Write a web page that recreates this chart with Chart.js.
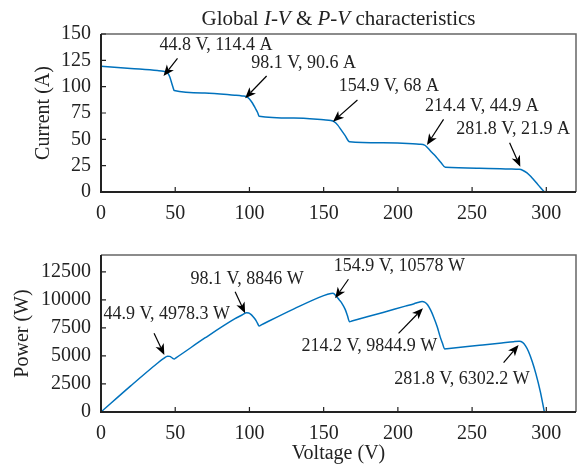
<!DOCTYPE html>
<html>
<head>
<meta charset="utf-8">
<script src="https://cdn.jsdelivr.net/npm/chart.js@4.4.1/dist/chart.umd.min.js"></script>
<style>
  body { margin: 0; background: #fff; }
  canvas { display: block; }
</style>
</head>
<body>
<canvas id="ivChart" width="586" height="222"></canvas>
<canvas id="pvChart" width="586" height="249"></canvas>
<script>
// I-V curve
const ivVoltage = [0, 20, 38, 42, 44.8, 46.3, 47.6, 48.6, 49.3,
  70, 90, 95, 98.1, 100, 102, 104, 105.5, 106.5,
  130, 150, 154.9, 157, 159.5, 162, 164.5, 167.4,
  190, 210, 214.4, 218, 220, 223, 226, 229, 232,
  255, 275, 281.8, 284, 287, 290, 293, 296, 298.7];
const ivCurrent = [119.5, 117.3, 115.3, 114.6, 113.2, 109.5, 103.5, 99, 96.3,
  94.0, 91.9, 91.2, 90.4, 88.3, 84.5, 79.5, 75.5, 72.0,
  70.2, 68.5, 67.9, 66.8, 63.5, 58.5, 53.5, 47.8,
  46.8, 45.9, 45.4, 44.5, 42, 37.5, 33, 28, 23.4,
  22.6, 21.9, 21.5, 20.7, 18.2, 14, 9.3, 4.2, 0];

// P-V curve
const pvVoltage = [0, 20, 38, 42, 44.9, 46.3, 47.6, 48.6, 49.3, 50.5,
  70, 90, 95, 98.1, 99.5, 101, 102.5, 104, 105.3, 106.5, 108,
  130, 150, 154.9, 156.3, 158.5, 160.5, 162.3, 164.5, 166, 167.4, 169,
  190, 205, 211, 214.2, 216.3, 218, 220, 222, 224, 226.5, 228.5, 230, 231.5, 233,
  255, 270, 278, 281.8, 284, 286, 288, 290.5, 293, 296, 298.7];
const pvPower = [0, 2330, 4350, 4760, 4978, 4960, 4860, 4760, 4730, 4830,
  6600, 8300, 8650, 8846, 8830, 8700, 8500, 8250, 7950, 7670, 7770,
  9200, 10380, 10570, 10583, 10330, 10000, 9690, 9150, 8600, 8050, 8110,
  8880, 9440, 9660, 9790, 9845, 9790, 9560, 9100, 8500, 7600, 6700, 6150, 5620, 5640,
  5950, 6160, 6270, 6302, 6200, 5900, 5400, 4500, 3400, 1800, 0];

// marked points
const ivMarkV = [44.8, 98.1, 154.9, 214.4, 281.8];
const ivMarkI = [114.4, 90.6, 68, 44.9, 21.9];
const ivMarkText = ['44.8 V, 114.4 A', '98.1 V, 90.6 A', '154.9 V, 68 A', '214.4 V, 44.9 A', '281.8 V, 21.9 A'];
const pvMarkV = [44.9, 98.1, 154.9, 214.2, 281.8];
const pvMarkP = [4978.3, 8846, 10578, 9844.9, 6302.2];
const pvMarkText = ['44.9 V, 4978.3 W', '98.1 V, 8846 W', '154.9 V, 10578 W', '214.2 V, 9844.9 W', '281.8 V, 6302.2 W'];

const xTicks = [0, 50, 100, 150, 200, 250, 300];
const ivTicks = [0, 25, 50, 75, 100, 125, 150];
const pvTicks = [0, 2500, 5000, 7500, 10000, 12500];

// pixel offsets of arrow tip, arrow tail and label centre from each marked point
const ivTip = [[-4, 4.5], [-1.5, 1.7], [2, 1.3], [7.7, 0.3], [1, -2.2]];
const ivTail = [[10, -13], [20, -20.6], [26.5, -20.4], [24.3, -25.4], [-9.7, -26.2]];
const ivLabel = [[48.5, -26.5], [57, -33.6], [58, -33.7], [62.7, -38.7], [-6.2, -39.6]];
const pvTip = [[-3.3, -1.2], [-1.5, 0.5], [4.2, 4.9], [4, 6.7], [-0.7, 3.7]];
const pvTail = [[-13.6, -22.9], [-11.5, -21.1], [17.5, -14.1], [-20.4, 31.7], [-15.7, 21.4]];
const pvLabel = [[-0.9, -41.9], [0.5, -33.5], [68.4, -26.7], [-49.5, 45.1], [-57.3, 38]];

const SERIF = '"Liberation Serif", "Times New Roman", serif';
const LINE = '#0072BD';
const INK = '#222';

function arrow(ctx, x0, y0, x1, y1) {
  const a = Math.atan2(y1 - y0, x1 - x0);
  const len = 11, half = 4.5, back = 8;
  ctx.save();
  ctx.strokeStyle = '#000';
  ctx.fillStyle = '#000';
  ctx.lineWidth = 1.2;
  ctx.beginPath();
  ctx.moveTo(x0, y0);
  ctx.lineTo(x1 - Math.cos(a) * back, y1 - Math.sin(a) * back);
  ctx.stroke();
  ctx.translate(x1, y1);
  ctx.rotate(a);
  ctx.beginPath();
  ctx.moveTo(0, 0);
  ctx.lineTo(-len, -half);
  ctx.lineTo(-back, 0);
  ctx.lineTo(-len, half);
  ctx.closePath();
  ctx.fill();
  ctx.restore();
}

const decor = {
  id: 'decor',
  afterDraw(chart, args, opts) {
    const { ctx, chartArea: ca, scales: { x, y } } = chart;
    ctx.save();
    // box
    ctx.strokeStyle = '#666';
    ctx.lineWidth = 1.5;
    ctx.beginPath();
    ctx.moveTo(ca.left, ca.top);
    ctx.lineTo(ca.right, ca.top);
    ctx.lineTo(ca.right, ca.bottom);
    ctx.stroke();
    ctx.strokeStyle = INK;
    ctx.lineWidth = 2;
    ctx.beginPath();
    ctx.moveTo(ca.left, ca.top);
    ctx.lineTo(ca.left, ca.bottom);
    ctx.lineTo(ca.right, ca.bottom);
    ctx.stroke();
    // inward ticks
    ctx.lineWidth = 1.2;
    ctx.beginPath();
    xTicks.forEach(v => {
      const px = x.getPixelForValue(v);
      ctx.moveTo(px, ca.bottom);
      ctx.lineTo(px, ca.bottom - 5);
    });
    opts.yTicks.forEach(v => {
      const py = y.getPixelForValue(v);
      ctx.moveTo(ca.left, py);
      ctx.lineTo(ca.left + 5, py);
    });
    ctx.stroke();

    // y axis title
    ctx.fillStyle = INK;
    ctx.font = '20px ' + SERIF;
    ctx.textAlign = 'center';
    ctx.textBaseline = 'alphabetic';
    ctx.save();
    ctx.translate(opts.yTitleX, (ca.top + ca.bottom) / 2);
    ctx.rotate(-Math.PI / 2);
    ctx.fillText(opts.yTitle, 0, 0);
    ctx.restore();
    if (opts.xTitle) ctx.fillText(opts.xTitle, (ca.left + ca.right) / 2, opts.xTitleY);

    // chart title with italic parts
    if (opts.title) {
      const parts = opts.title;
      let total = 0;
      parts.forEach(p => {
        ctx.font = (p[1] ? 'italic ' : '') + '21px ' + SERIF;
        total += ctx.measureText(p[0]).width;
      });
      let tx = (ca.left + ca.right) / 2 - total / 2;
      ctx.textAlign = 'left';
      parts.forEach(p => {
        ctx.font = (p[1] ? 'italic ' : '') + '21px ' + SERIF;
        ctx.fillText(p[0], tx, 25);
        tx += ctx.measureText(p[0]).width;
      });
    }

    // marked points
    ctx.font = '18px ' + SERIF;
    ctx.textAlign = 'center';
    ctx.textBaseline = 'middle';
    opts.markX.forEach((v, i) => {
      const px = x.getPixelForValue(v);
      const py = y.getPixelForValue(opts.markY[i]);
      arrow(ctx, px + opts.tail[i][0], py + opts.tail[i][1], px + opts.tip[i][0], py + opts.tip[i][1]);
      ctx.fillStyle = INK;
      ctx.fillText(opts.text[i], px + opts.label[i][0], py + opts.label[i][1]);
    });
    ctx.restore();
  }
};

function makeChart(id, xs, ys, yMax, yTicks, xAxisHeight, padTop, decorOpts) {
  const setTicks = list => scale => {
    scale.ticks = list.map(v => ({ value: v }));
  };
  return new Chart(document.getElementById(id), {
    type: 'line',
    data: {
      datasets: [{
        data: xs.map((v, i) => ({ x: v, y: ys[i] })),
        borderColor: LINE,
        borderWidth: 1.5,
        pointRadius: 0,
        cubicInterpolationMode: 'monotone',
        fill: false
      }]
    },
    options: {
      responsive: false,
      animation: false,
      devicePixelRatio: 1,
      layout: { padding: { left: 0, right: 10, top: padTop, bottom: 0 } },
      plugins: { legend: { display: false }, tooltip: { enabled: false }, decor: decorOpts },
      scales: {
        x: {
          type: 'linear', min: 0, max: 320,
          grid: { display: false }, border: { display: false },
          ticks: { color: INK, font: { family: SERIF, size: 20 }, padding: 2, maxRotation: 0,
            autoSkip: false, callback: v => String(v) },
          afterBuildTicks: setTicks(xTicks),
          afterFit: s => { s.height = xAxisHeight; }
        },
        y: {
          type: 'linear', min: 0, max: yMax,
          grid: { display: false }, border: { display: false },
          ticks: { color: INK, font: { family: SERIF, size: 20 }, padding: 2,
            autoSkip: false, callback: v => String(v) },
          afterBuildTicks: setTicks(yTicks),
          afterFit: s => { s.width = 101; }
        }
      }
    },
    plugins: [decor]
  });
}

makeChart('ivChart', ivVoltage, ivCurrent, 150, ivTicks, 30, 34, {
  yTicks: ivTicks, yTitle: 'Current (A)', yTitleX: 49,
  title: [['Global ', false], ['I-V', true], [' & ', false], ['P-V', true], [' characteristics', false]],
  markX: ivMarkV, markY: ivMarkI, text: ivMarkText, tip: ivTip, tail: ivTail, label: ivLabel
});

makeChart('pvChart', pvVoltage, pvPower, 14000, pvTicks, 59, 33, {
  yTicks: pvTicks, yTitle: 'Power (W)', yTitleX: 27.5,
  xTitle: 'Voltage (V)', xTitleY: 237,
  markX: pvMarkV, markY: pvMarkP, text: pvMarkText, tip: pvTip, tail: pvTail, label: pvLabel
});
</script>
</body>
</html>
